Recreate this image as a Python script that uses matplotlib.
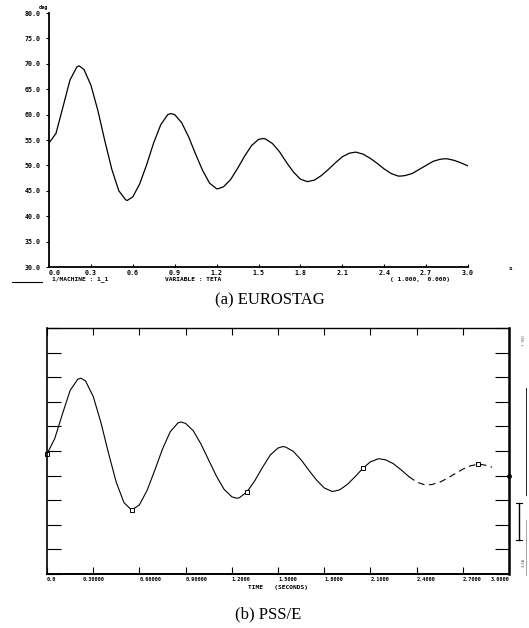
import matplotlib
matplotlib.use("Agg")
import matplotlib.pyplot as plt
import numpy as np
from matplotlib.lines import Line2D

# (a) EUROSTAG: rotor angle of machine 1_1 (deg), read every 0.05 s
t_a = list(np.round(np.arange(61) * 0.05, 2))
teta_a = [54.4, 56.3, 61.5, 66.8, 69.4, 68.9, 65.8, 60.8, 54.8, 49.2,
          45.0, 43.2, 43.8, 46.4, 50.2, 54.5, 58.0, 60.0, 60.0, 58.4,
          55.6, 52.2, 49.0, 46.5, 45.4, 45.8, 47.2, 49.4, 51.8, 53.9,
          55.1, 55.2, 54.3, 52.7, 50.6, 48.7, 47.3, 46.8, 47.1, 48.0,
          49.2, 50.5, 51.7, 52.4, 52.6, 52.2, 51.4, 50.4, 49.3, 48.4,
          47.9, 48.0, 48.4, 49.2, 50.0, 50.8, 51.2, 51.3, 51.0, 50.5,
          49.9]
# peaks / troughs (a)
ext_t_a = [0.215, 0.56, 0.873, 1.21, 1.53, 2.19, 2.52, 2.83]
ext_v_a = [69.6, 43.1, 60.2, 45.4, 55.3, 52.6, 47.9, 51.3]

# (b) PSS/E: same quantity
t_b = list(np.round(np.arange(58) * 0.05, 2)) + [2.89]
teta_b = [54.4, 57.5, 62.5, 67.3, 69.6, 69.25, 66.1, 60.8, 54.5, 48.6,
          44.5, 43.0, 44.05, 47.0, 51.1, 55.4, 58.9, 60.7, 60.6, 59.1,
          56.4, 53.15, 49.9, 47.2, 45.7, 45.5, 46.75, 49.0, 51.7, 54.2,
          55.6, 55.8, 54.9, 53.2, 51.1, 49.1, 47.5, 46.8, 47.1, 48.2,
          49.75, 51.45, 52.8, 53.4, 53.2, 52.4, 51.15, 49.8, 48.7, 48.15,
          48.2, 48.65, 49.45, 50.4, 51.3, 52.0, 52.3, 52.1, 51.7]
ext_t_b = [0.22, 0.87, 1.23, 1.53, 1.86, 2.16, 2.47, 2.81]
ext_v_b = [69.8, 60.9, 45.4, 55.9, 46.8, 53.4, 48.1, 52.3]
mark_t_b = [0.0, 0.55, 1.3, 2.05, 2.8]
dash_from_b = 2.35

yticks = [30, 35, 40, 45, 50, 55, 60, 65, 70, 75, 80]
xticks = [0.0, 0.3, 0.6, 0.9, 1.2, 1.5, 1.8, 2.1, 2.4, 2.7, 3.0]
xlabels_a = ["0.0", "0.3", "0.6", "0.9", "1.2", "1.5", "1.8", "2.1", "2.4", "2.7", "3.0"]
xlabels_b = ["0.0", "0.30000", "0.60000", "0.90000", "1.2000", "1.5000",
             "1.8000", "2.1000", "2.4000", "2.7000", "3.0000"]


def merged(t, v, et, ev):
    pts = sorted(zip(list(t) + list(et), list(v) + list(ev)))
    return np.array([p[0] for p in pts]), np.array([p[1] for p in pts])


ta, va = merged(t_a, teta_a, ext_t_a, ext_v_a)
tb, vb = merged(t_b, teta_b, ext_t_b, ext_v_b)

W, H = 529, 628
fig = plt.figure(figsize=(W / 100, H / 100), dpi=100)
mono = dict(family="DejaVu Sans Mono", weight="bold")


def px(x, y):
    return x / W, 1 - y / H


# ---------- (a) ----------
ax1 = fig.add_axes([49 / W, 1 - 267 / H, (468 - 49) / W, 254 / H])
ax1.plot(ta, va, color="black", lw=0.9, solid_joinstyle="round")
ax1.set_xlim(0, 3.0)
ax1.set_ylim(30, 80)
for s in ["top", "right"]:
    ax1.spines[s].set_visible(False)
for s in ["left", "bottom"]:
    ax1.spines[s].set_linewidth(1.3)
ax1.set_yticks(yticks)
ax1.set_yticklabels(["%.1f" % v for v in yticks], fontsize=4.8, **mono)
ax1.set_xticks(xticks)
ax1.set_xticklabels(xlabels_a, fontsize=4.8, **mono)
ax1.tick_params(axis="y", length=2, width=0.8, pad=4)
ax1.tick_params(axis="x", direction="in", length=2, width=0.8, pad=2)
ax1.get_xticklabels()[0].set_horizontalalignment("left")

fig.text(*px(43, 8), "deg", fontsize=3.8, ha="center", va="center", **mono)
fig.text(*px(510, 269), "s", fontsize=4.5, ha="center", va="center", **mono)
fig.add_artist(Line2D([12 / W, 42 / W], [1 - 282 / H] * 2, color="black", lw=0.8))
fig.text(*px(52, 279), "1/MACHINE : 1_1", fontsize=4.5, va="center", **mono)
fig.text(*px(165, 279), "VARIABLE : TETA", fontsize=4.5, va="center", **mono)
fig.text(*px(390, 279), "( 1.000,  0.000)", fontsize=4.5, va="center", **mono)
fig.text(*px(270, 300), "(a) EUROSTAG", fontsize=12, family="Liberation Serif",
         ha="center", va="center")

# ---------- (b) ----------
ax2 = fig.add_axes([47 / W, 1 - 574 / H, (509 - 47) / W, 246 / H])
solid = tb <= dash_from_b
ax2.plot(tb[solid], vb[solid], color="black", lw=0.8, solid_joinstyle="round")
ax2.plot(tb[tb >= dash_from_b], vb[tb >= dash_from_b], color="black", lw=0.8,
         dashes=(6, 4))
mi = [int(np.argmin(np.abs(tb - m))) for m in mark_t_b]
ax2.plot(tb[mi], vb[mi], ls="none", marker="s", ms=2.5, mfc="white",
         mec="black", mew=0.7, clip_on=False)
ax2.plot([3.0], [49.9], ls="none", marker="o", ms=2.5, color="black", clip_on=False)
ax2.set_xlim(0, 3.0)
ax2.set_ylim(30, 80)
ax2.spines["left"].set_linewidth(1.2)
ax2.spines["right"].set_linewidth(1.8)
ax2.spines["top"].set_linewidth(1.0)
ax2.spines["bottom"].set_linewidth(1.4)
ax2.set_yticks(yticks)
ax2.set_yticklabels([])
ax2.tick_params(axis="y", direction="in", length=10, width=0.8, left=True, right=True)
ax2.set_xticks(xticks)
ax2.set_xticklabels(xlabels_b, fontsize=3.8, **mono)
ax2.tick_params(axis="x", direction="in", length=5, width=0.8, top=True, bottom=True, pad=2)
for i, lab in enumerate(ax2.get_xticklabels()):
    if i == 1:
        lab.set_horizontalalignment("center")
    elif i == len(xlabels_b) - 1:
        lab.set_horizontalalignment("right")
    else:
        lab.set_horizontalalignment("left")
ax2.set_xlabel("TIME   (SECONDS)", fontsize=4.5, labelpad=2, **mono)

# right-hand channel strip
fig.add_artist(Line2D([526 / W] * 2, [1 - 388 / H, 1 - 495 / H], color="black", lw=0.6))
fig.add_artist(Line2D([526 / W] * 2, [1 - 520 / H, 1 - 575 / H], color="gray", lw=0.5))
fig.add_artist(Line2D([519 / W] * 2, [1 - 503 / H, 1 - 540 / H], color="black", lw=1.0))
for yy in (503, 540):
    fig.add_artist(Line2D([516 / W, 522 / W], [1 - yy / H] * 2, color="black", lw=0.8))
fig.text(*px(521, 340), "CHNL 1", fontsize=2.2, rotation=270, ha="center",
         va="center", color="gray", **mono)
fig.text(*px(521, 563), "PSS/E", fontsize=2.2, rotation=270, ha="center",
         va="center", color="gray", **mono)

fig.text(*px(268, 614), "(b) PSS/E", fontsize=12, family="Liberation Serif",
         ha="center", va="center")

fig.savefig("out.png", dpi=100)
